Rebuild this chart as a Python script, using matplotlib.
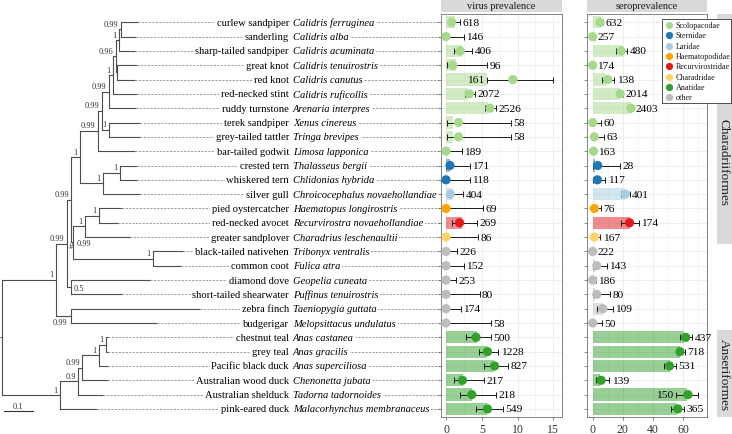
import re
import numpy as np
import matplotlib
matplotlib.use('Agg')
import matplotlib.pyplot as plt
from matplotlib.patches import Rectangle
from matplotlib.transforms import offset_copy

# ---------------- data ----------------
common_names = ['curlew sandpiper', 'sanderling', 'sharp-tailed sandpiper', 'great knot', 'red knot',
                'red-necked stint', 'ruddy turnstone', 'terek sandpiper', 'grey-tailed tattler',
                'bar-tailed godwit', 'crested tern', 'whiskered tern', 'silver gull', 'pied oystercatcher',
                'red-necked avocet', 'greater sandplover', 'black-tailed nativehen', 'common coot',
                'diamond dove', 'short-tailed shearwater', 'zebra finch', 'budgerigar', 'chestnut teal',
                'grey teal', 'Pacific black duck', 'Australian wood duck', 'Australian shelduck',
                'pink-eared duck']
scientific_names = ['Calidris ferruginea', 'Calidris alba', 'Calidris acuminata', 'Calidris tenuirostris',
                    'Calidris canutus', 'Calidris ruficollis', 'Arenaria interpres', 'Xenus cinereus',
                    'Tringa brevipes', 'Limosa lapponica', 'Thalasseus bergii', 'Chlidonias hybrida',
                    'Chroicocephalus novaehollandiae', 'Haematopus longirostris',
                    'Recurvirostra novaehollandiae', 'Charadrius leschenaultii', 'Tribonyx ventralis',
                    'Fulica atra', 'Geopelia cuneata', 'Puffinus tenuirostris', 'Taeniopygia guttata',
                    'Melopsittacus undulatus', 'Anas castanea', 'Anas gracilis', 'Anas superciliosa',
                    'Chenonetta jubata', 'Tadorna tadornoides', 'Malacorhynchus membranaceus']
families = ['Scolopacodae', 'Scolopacodae', 'Scolopacodae', 'Scolopacodae', 'Scolopacodae',
            'Scolopacodae', 'Scolopacodae', 'Scolopacodae', 'Scolopacodae', 'Scolopacodae',
            'Sternidae', 'Sternidae', 'Laridae', 'Haematopodidae', 'Recurvirostridae', 'Charadridae',
            'other', 'other', 'other', 'other', 'other', 'other',
            'Anatidae', 'Anatidae', 'Anatidae', 'Anatidae', 'Anatidae', 'Anatidae']
orders = ['Charadriiformes'] * 16 + [''] * 6 + ['Anseriformes'] * 6

family_names = ['Scolopacodae', 'Sternidae', 'Laridae', 'Haematopodidae', 'Recurvirostridae',
                'Charadridae', 'Anatidae', 'other']
family_colors = ['#a6d98a', '#1f78b4', '#a6cee3', '#ffa500', '#e31a1c', '#fdd466', '#33a02c', '#bdbdbd']

# virus prevalence (%)
virus_bar = [1.2, 0, 2.2, 1.4, 5.7, 3.1, 5.9, 1.0, 1.0, 0, 0.6, 0, 1.0, 0, 2.2, 0,
             0, 0, 0, 0, 0, 0, 4.3, 5.8, 6.7, 2.4, 3.6, 5.7]
virus_pt = [0.8, 0, 2.0, 0.95, 9.35, 3.25, 6.15, 1.75, 1.75, 0, 0.55, 0, 0.6, 0, 1.9, 0,
            0, 0, 0, 0, 0, 0, 4.2, 5.8, 6.8, 2.3, 3.6, 5.8]
virus_lo = [0.35, 0, 1.05, 0.1, 5.7, 2.65, 5.45, 0.1, 0.1, 0, 0, 0, 0.3, 0, 0.8, 0,
            0, 0, 0, 0, 0, 0, 2.8, 4.65, 5.3, 1.05, 1.95, 4.2]
virus_hi = [2.0, 2.5, 3.7, 5.7, 14.9, 4.05, 7.0, 9.1, 9.1, 2.2, 3.3, 3.3, 2.4, 5.2, 4.3, 4.45,
            1.6, 2.45, 1.4, 4.7, 2.1, 6.25, 6.3, 7.3, 8.7, 5.25, 7.0, 8.0]
virus_n = [618, 146, 406, 96, 161, 2072, 2526, 58, 58, 189, 171, 118, 404, 69, 269, 86,
           226, 152, 253, 80, 174, 58, 500, 1228, 827, 217, 218, 549]

# seroprevalence (%)
sero_bar = [5.5, 0, 20, 0, 9, 18.2, 25.3, 0, 0, 0, 1.5, 0, 21.6, 0, 24.4, 0,
            0, 1.5, 0, 1.5, 7.1, 0, 60.4, 57.8, 51, 4.9, 62.7, 56]
sero_pt = [4.9, 0, 18.9, 0, 10, 18.2, 25.3, 0, 1.1, 0.5, 3.3, 3.1, 21.6, 1.1, 24.4, 1.1,
           0, 2.7, 0, 2.7, 6.7, 0, 61.6, 57.8, 50.9, 5.6, 63.1, 56.4]
sero_lo = [3.3, 0, 15.6, 0, 6, 16.8, 24.3, 0, 0.2, 0, 0.2, 0.4, 18.7, 0.2, 18.9, 0.3,
           0, 0.5, 0, 0.5, 3.1, 0, 57.8, 55.8, 47, 2.2, 55, 51.6]
sero_hi = [6.7, 1.3, 22.7, 1.3, 14.4, 19.8, 26.4, 5.3, 7.8, 1.6, 17.8, 8.2, 24.4, 5.3, 30.4, 4.9,
           1.5, 9.3, 2.0, 11.6, 13.3, 6.0, 66.0, 61.0, 55.0, 11.1, 70.0, 60.4]
sero_n = [632, 257, 480, 174, 138, 2014, 2403, 60, 63, 163, 28, 117, 401, 76, 174, 167,
          222, 143, 186, 80, 109, 50, 437, 718, 531, 139, 150, 365]

# phylogeny (tips are row numbers), branch lengths in substitutions/site
tree_newick = ("((((((((((((1:0.058,2:0.052)n1:0.008,3:0.055)n2:0.011,(4:0.068,5:0.062)n3:0.005)n4:0.009,"
               "6:0.082)n5:0.014,7:0.095)n6:0.026,(8:0.107,9:0.107)n7:0.026)n8:0.012,10:0.128)n9:0.064,"
               "((11:0.059,12:0.059)n10:0.058,13:0.128)n11:0.081)n12:0.029,"
               "(((14:0.078,15:0.065)n14:0.050,16:0.157)n15:0.041,(17:0.103,18:0.097)n16:0.279)n17:0.006)n13:0.017,"
               "(19:0.276,20:0.178)ndd:0.014)c2:0.037,(21:0.451,22:0.300)cz:0.051)c1:0.189,"
               "(((((23:0.007,24:0.007)a5:0.024,25:0.031)a4:0.058,26:0.090)a3:0.014,27:0.086)a2:0.064,"
               "28:0.129)a1:0.203)root:0.006;")
node_support = {'n1': '0.99', 'n2': '1', 'n4': '0.96', 'n5': '1', 'n6': '0.99', 'n7': '1', 'n8': '0.99',
                'n9': '0.99', 'n10': '1', 'n11': '1', 'n12': '1', 'n13': '0.99', 'n14': '1', 'n15': '1',
                'n16': '1', 'n17': '0.99', 'ndd': '0.5', 'c2': '0.99', 'cz': '0.99', 'c1': '1',
                'a1': '1', 'a2': '0.9', 'a3': '0.99', 'a4': '1', 'a5': '1'}
node_mark = {'n17': '#'}
label_place = {'n17': 'right', 'ndd': 'right', 'cz': 'below'}

# ---------------- style / layout ----------------
plt.rcParams['font.family'] = ['Liberation Serif', 'DejaVu Serif']
plt.rcParams['lines.scale_dashes'] = False

W, H = 732, 435
fig = plt.figure(figsize=(W / 100, H / 100), dpi=100)


def rect(l, t, r, b):
    return [l / W, 1 - b / H, (r - l) / W, (b - t) / H]


TOP, BOT = 15, 418
ROW0_PX, ROW_PX = 23.3, 14.32
n_rows = len(common_names)
rows = np.arange(1, n_rows + 1)
ylim = (1 + (BOT - ROW0_PX) / ROW_PX, 1 + (TOP - ROW0_PX) / ROW_PX)

ax_tree = fig.add_axes(rect(0, TOP, 441, BOT))
ax_v = fig.add_axes(rect(441, TOP, 562, BOT))
ax_s = fig.add_axes(rect(587, TOP, 707, BOT))
ax_o = fig.add_axes(rect(717, TOP, 732, BOT))
ax_over = fig.add_axes([0, 0, 1, 1], zorder=10)
ax_over.set_xlim(0, W)
ax_over.set_ylim(H, 0)
ax_over.axis('off')
ax_over.patch.set_alpha(0)

fam_col = dict(zip(family_names, family_colors))


# ---------------- tree ----------------
def parse_newick(s):
    pos = 0

    def node():
        nonlocal pos
        children = []
        if s[pos] == '(':
            pos += 1
            while True:
                children.append(node())
                if s[pos] == ',':
                    pos += 1
                elif s[pos] == ')':
                    pos += 1
                    break
                else:
                    raise ValueError('bad newick at %d' % pos)
        m = re.match(r'([^:,();]*)(?::([0-9.eE-]+))?', s[pos:])
        pos += m.end()
        return {'name': m.group(1), 'length': float(m.group(2) or 0), 'children': children}

    return node()


def layout(nd, x0):
    nd['x0'] = x0
    nd['x'] = x0 + nd['length']
    if nd['children']:
        ys = [layout(c, nd['x']) for c in nd['children']]
        nd['y'] = float(np.mean(ys))
    else:
        nd['y'] = float(nd['name'])
    return nd['y']


TREE_PX_PER_UNIT = 287.0
ROOT_PX = 1.7


def tx(px):
    return (px - ROOT_PX) / TREE_PX_PER_UNIT


tree = parse_newick(tree_newick)
layout(tree, -tree['length'])
ax_tree.set_xlim(tx(0), tx(441))
ax_tree.set_ylim(*ylim)
ax_tree.axis('off')
TREE_COL = '#4d4d4d'
LEAD_COL = '#808080'
xr = tx(441)


def draw(nd):
    ax_tree.plot([nd['x0'], nd['x']], [nd['y'], nd['y']], color=TREE_COL, lw=0.8,
                 solid_capstyle='butt', clip_on=False)
    ch = nd['children']
    if ch:
        ax_tree.plot([nd['x'], nd['x']], [ch[0]['y'], ch[-1]['y']], color=TREE_COL, lw=0.8,
                     solid_capstyle='projecting', clip_on=False)
        for c in ch:
            draw(c)
        lab = node_support.get(nd['name'])
        if lab:
            place = label_place.get(nd['name'], 'above')
            dx, dy, ha = {'above': (-2.5, 5.5, 'right'), 'right': (3.5, -0.5, 'left'),
                          'below': (-3.5, -6.5, 'right')}[place]
            tr = offset_copy(ax_tree.transData, fig=fig, x=dx, y=dy, units='dots')
            ax_tree.text(nd['x'], nd['y'], lab, transform=tr, ha=ha, va='center', fontsize=6,
                         color='#333333')
        mk = node_mark.get(nd['name'])
        if mk:
            tr = offset_copy(ax_tree.transData, fig=fig, x=-2.5, y=-3.5, units='dots')
            ax_tree.text(nd['x'], nd['y'], mk, transform=tr, ha='center', va='center', fontsize=6,
                         color='#333333')
    else:
        ax_tree.plot([nd['x'], xr], [nd['y'], nd['y']], color=LEAD_COL, lw=0.55, dashes=(1.5, 1.0),
                     clip_on=False, zorder=1)


draw(tree)

for i, r in enumerate(rows):
    ax_tree.text(tx(289), r, common_names[i], ha='right', va='center', fontsize=7.6, zorder=3,
                 bbox=dict(fc='white', ec='none', pad=1.3))
    ax_tree.text(tx(293), r, scientific_names[i], ha='left', va='center', fontsize=7.6, style='italic',
                 zorder=3, bbox=dict(fc='white', ec='none', pad=1.3))

# scale bar
y_sb = 1 + (412.3 - ROW0_PX) / ROW_PX
ax_tree.plot([tx(4), tx(4) + 0.1], [y_sb, y_sb], color='#333333', lw=0.8, clip_on=False)
tr = offset_copy(ax_tree.transData, fig=fig, x=0, y=1.5, units='dots')
ax_tree.text(tx(4) + 0.05, y_sb, '0.1', transform=tr, ha='center', va='bottom', fontsize=6, color='#333333')

# ---------------- panels ----------------
row_colors = [fam_col[f] for f in families]


def panel(ax, bar, pt, lo, hi, n, xlim, major, minor):
    pt, lo, hi = np.array(pt), np.array(lo), np.array(hi)
    ax.set_xlim(*xlim)
    ax.set_ylim(*ylim)
    ax.set_xticks(major)
    ax.set_xticks(minor, minor=True)
    ax.set_yticks(rows)
    ax.set_yticklabels([])
    ax.tick_params(axis='both', which='major', length=2.5, width=0.5, color='#555555',
                   labelsize=8.5, labelcolor='#333333', pad=1.5)
    ax.tick_params(axis='x', which='minor', length=0)
    ax.grid(which='major', color='#ebebeb', lw=0.6)
    ax.grid(which='minor', axis='x', color='#f0f0f0', lw=0.4)
    ax.set_axisbelow(True)
    for sp in ax.spines.values():
        sp.set_color('#707070')
        sp.set_linewidth(0.6)
    ax.barh(rows, bar, height=0.86, color=row_colors, alpha=0.5, lw=0, zorder=1)
    ax.errorbar(pt, rows, xerr=[pt - lo, hi - pt], fmt='none', ecolor='#1a1a1a', elinewidth=0.7,
                capsize=2.3, capthick=0.7, zorder=2)
    ax.scatter(pt, rows, s=44, c=row_colors, lw=0, zorder=3)
    for i, r in enumerate(rows):
        if hi[i] > 0.88 * xlim[1]:
            tr = offset_copy(ax.transData, fig=fig, x=-2.5, y=0, units='dots')
            ax.text(lo[i], r, str(n[i]), transform=tr, ha='right', va='center', fontsize=8.2, zorder=4)
        else:
            tr = offset_copy(ax.transData, fig=fig, x=2.5, y=0, units='dots')
            ax.text(hi[i], r, str(n[i]), transform=tr, ha='left', va='center', fontsize=8.2, zorder=4,
                    clip_on=False)


panel(ax_v, virus_bar, virus_pt, virus_lo, virus_hi, virus_n, (-0.70, 16.22), [0, 5, 10, 15],
      [2.5, 7.5, 12.5])
panel(ax_s, sero_bar, sero_pt, sero_lo, sero_hi, sero_n, (-3.77, 75.7), [0, 20, 40, 60],
      [10, 30, 50, 70])

# header strips
STRIP_COL = '#d9d9d9'
for (l, r), title in [((441, 562), 'virus prevalence'), ((587, 707), 'seroprevalence')]:
    ax_over.add_patch(Rectangle((l, 0.5), r - l, 12, fc=STRIP_COL, ec='none'))
    ax_over.text((l + r) / 2, 6.5, title, ha='center', va='center', fontsize=7.5, color='#1a1a1a')

# order strips
strip_text_px = {'Charadriiformes': 163}
ax_o.set_ylim(*ylim)
ax_o.set_xlim(0, 1)
ax_o.axis('off')
for name in ['Charadriiformes', 'Anseriformes']:
    idx = [i + 1 for i, o in enumerate(orders) if o == name]
    y0 = idx[0] - 0.5 if idx[0] > 1 else ylim[1]
    y1 = idx[-1] + 0.5 if idx[-1] < n_rows else ylim[0]
    ax_o.add_patch(Rectangle((0, y0), 1, y1 - y0, fc=STRIP_COL, ec='none', clip_on=False))
    yt = (y0 + y1) / 2
    if name in strip_text_px:
        yt = 1 + (strip_text_px[name] - ROW0_PX) / ROW_PX
    ax_o.text(0.45, yt, name, rotation=-90, ha='center', va='center', fontsize=9.5,
              color='#1a1a1a')

# legend
ax_over.add_patch(Rectangle((662, 20), 68.5, 84, fc='white', ec='#333333', lw=0.6))
for k, (name, col) in enumerate(zip(family_names, family_colors)):
    y = 26 + k * 10.3
    ax_over.plot(669.3, y, 'o', ms=5.2, color=col, mec='none')
    ax_over.text(675.5, y, name, ha='left', va='center', fontsize=5.9, color='#1a1a1a')

fig.savefig('out.png', dpi=100)
